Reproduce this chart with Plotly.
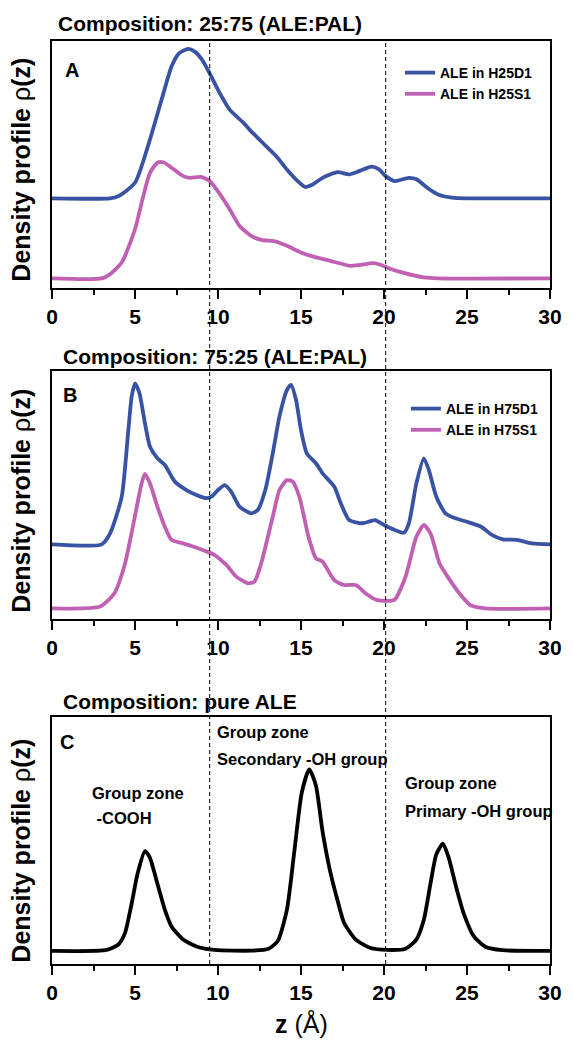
import plotly.graph_objects as go

# ---------------- data ----------------
# Panel A: composition 25:75 (ALE:PAL)
za_blue = [0, 3.5, 4.0, 5.0, 5.9, 6.6, 7.2, 7.65, 8.2, 8.6, 9.05, 9.6, 10.0, 10.7, 11.55, 12.0, 12.5,
           13.0, 13.5, 14.15, 14.8, 15.25, 15.7, 16.3, 17.2, 17.9, 18.5, 19.25, 19.7, 20.1, 20.65, 21.5,
           21.96, 22.6, 23.25, 24.1, 25.0, 30.0]
a_blue = [0.363, 0.363, 0.372, 0.426, 0.601, 0.762, 0.897, 0.950, 0.968, 0.957, 0.923, 0.856, 0.802,
          0.722, 0.668, 0.634, 0.601, 0.567, 0.534, 0.480, 0.433, 0.409, 0.419, 0.446, 0.469, 0.460,
          0.473, 0.491, 0.480, 0.453, 0.433, 0.446, 0.440, 0.406, 0.379, 0.366, 0.363, 0.363]
za_pink = [0, 3.0, 3.5, 4.2, 5.0, 5.5, 5.9, 6.35, 6.7, 7.2, 7.9, 8.3, 8.95, 9.5, 10.05, 10.7, 11.3, 12.0,
           12.6, 13.5, 14.15, 15.0, 15.7, 16.75, 17.95, 18.5, 19.35, 19.8, 20.4, 21.3, 22.4, 23.25, 30]
a_pink = [0.039, 0.039, 0.056, 0.103, 0.238, 0.372, 0.466, 0.507, 0.509, 0.487, 0.453, 0.446, 0.450,
          0.433, 0.386, 0.319, 0.251, 0.211, 0.195, 0.188, 0.171, 0.144, 0.128, 0.110, 0.090, 0.093,
          0.101, 0.094, 0.077, 0.059, 0.043, 0.039, 0.039]

# Panel B: composition 75:25 (ALE:PAL)
zb_blue = [0, 3.0, 3.5, 4.2, 4.6, 4.8, 5.0, 5.27, 5.6, 5.9, 6.35, 6.8, 7.4, 8.1, 8.7, 9.3, 9.6, 10.0,
           10.4, 10.8, 11.3, 12.0, 12.4, 12.85, 13.3, 13.7, 14.15, 14.4, 14.7, 15.0, 15.35, 15.9, 16.3,
           17.0, 17.4, 17.9, 18.7, 19.45, 20.0, 20.65, 21.2, 21.5, 21.95, 22.4, 22.7, 23.15, 23.7, 24.3,
           25.0, 25.85, 26.5, 27.15, 28.0, 28.9, 30]
b_blue = [0.301, 0.301, 0.345, 0.493, 0.762, 0.897, 0.950, 0.910, 0.789, 0.695, 0.648, 0.621, 0.554,
          0.520, 0.500, 0.487, 0.493, 0.520, 0.540, 0.513, 0.453, 0.426, 0.440, 0.520, 0.668, 0.816,
          0.923, 0.944, 0.883, 0.762, 0.668, 0.628, 0.587, 0.534, 0.466, 0.399, 0.386, 0.399, 0.379,
          0.359, 0.348, 0.386, 0.547, 0.648, 0.601, 0.493, 0.426, 0.406, 0.392, 0.372, 0.339, 0.321,
          0.319, 0.305, 0.301]
zb_pink = [0, 2.9, 3.75, 4.4, 4.95, 5.4, 5.6, 5.9, 6.35, 6.8, 7.2, 7.9, 8.5, 9.3, 9.8, 10.5, 11.1, 11.8,
           12.2, 12.6, 13.3, 13.7, 14.15, 14.5, 14.9, 15.45, 15.9, 16.3, 17.0, 17.6, 18.3, 18.9, 19.55,
           20.2, 20.65, 21.3, 21.95, 22.4, 22.8, 23.35, 23.9, 24.55, 25.2, 26.1, 30]
b_pink = [0.043, 0.050, 0.103, 0.224, 0.399, 0.547, 0.585, 0.547, 0.453, 0.372, 0.319, 0.305, 0.292,
          0.272, 0.258, 0.218, 0.171, 0.144, 0.151, 0.224, 0.413, 0.520, 0.560, 0.554, 0.493, 0.332,
          0.245, 0.231, 0.157, 0.137, 0.137, 0.103, 0.077, 0.073, 0.079, 0.171, 0.332, 0.379, 0.345,
          0.224, 0.164, 0.103, 0.056, 0.043, 0.043]

# Panel C: pure ALE
zc = [0, 3.3, 4.0, 4.4, 4.8, 5.15, 5.6, 5.9, 6.35, 6.8, 7.2, 7.9, 8.75, 9.8, 12.0, 13.05, 13.6, 14.15,
      14.6, 15.05, 15.5, 15.9, 16.3, 16.75, 17.2, 17.6, 18.3, 19.15, 20.2, 21.3, 21.95, 22.4, 22.8,
      23.15, 23.55, 23.9, 24.35, 24.8, 25.4, 26.1, 27.15, 30]
c_val = [0.053, 0.057, 0.079, 0.126, 0.245, 0.364, 0.457, 0.430, 0.325, 0.219, 0.152, 0.099, 0.070,
         0.057, 0.054, 0.062, 0.093, 0.219, 0.457, 0.695, 0.788, 0.722, 0.536, 0.377, 0.258, 0.166,
         0.099, 0.066, 0.057, 0.062, 0.099, 0.179, 0.325, 0.444, 0.487, 0.430, 0.311, 0.205, 0.113,
         0.070, 0.056, 0.053]

series_names_a = ["ALE in H25D1", "ALE in H25S1"]
series_names_b = ["ALE in H75D1", "ALE in H75S1"]
panel_titles = ["Composition: 25:75 (ALE:PAL)", "Composition: 75:25 (ALE:PAL)", "Composition: pure ALE"]
panel_letters = ["A", "B", "C"]
zone_dividers = [9.5, 20.1]
x_ticks = [0, 5, 10, 15, 20, 25, 30]
x_tick_labels = ["0", "5", "10", "15", "20", "25", "30"]
x_minor_ticks = [2.5, 7.5, 12.5, 17.5, 22.5, 27.5]

# ---------------- styling ----------------
BLUE = "#3953a4"
PINK = "#c160b3"
FONT = "Liberation Sans, Arial, sans-serif"

# the page body has an 8px margin, so the figure is drawn 8px in from the window corner
OFF = 8
W, H = 574 - OFF, 1048 - OFF
# target positions in window pixels
PLOT_L, PLOT_R, PLOT_T, PLOT_B = 52, 560, 41, 964
ML, MT = PLOT_L - OFF, PLOT_T - OFF
MR, MB = W - (PLOT_R - OFF), H - (PLOT_B - OFF)
PW, PH = W - ML - MR, H - MT - MB


def py(sy):
    """window y pixel -> paper fraction"""
    return (PLOT_B - sy) / PH


def px_(sx):
    """window x pixel -> paper fraction"""
    return (sx - PLOT_L) / PW


dom_a = [py(288), 1.0]
dom_b = [py(619), py(371)]
dom_c = [0.0, py(717)]

fig = go.Figure()
line_kw = dict(shape="spline", smoothing=0.6)
LW = 3.8
fig.add_trace(go.Scatter(x=za_blue, y=a_blue, mode="lines", name=series_names_a[0],
                         line=dict(color=BLUE, width=LW, **line_kw), xaxis="x", yaxis="y", legend="legend"))
fig.add_trace(go.Scatter(x=za_pink, y=a_pink, mode="lines", name=series_names_a[1],
                         line=dict(color=PINK, width=LW, **line_kw), xaxis="x", yaxis="y", legend="legend"))
fig.add_trace(go.Scatter(x=zb_blue, y=b_blue, mode="lines", name=series_names_b[0],
                         line=dict(color=BLUE, width=LW, **line_kw), xaxis="x2", yaxis="y2", legend="legend2"))
fig.add_trace(go.Scatter(x=zb_pink, y=b_pink, mode="lines", name=series_names_b[1],
                         line=dict(color=PINK, width=LW, **line_kw), xaxis="x2", yaxis="y2", legend="legend2"))
fig.add_trace(go.Scatter(x=zc, y=c_val, mode="lines", name="pure ALE", showlegend=False,
                         line=dict(color="black", width=LW, **line_kw), xaxis="x3", yaxis="y3"))

xcommon = dict(range=[0, 30], domain=[0, 1], tickmode="array", tickvals=x_ticks, ticktext=x_tick_labels,
               ticks="outside", ticklen=9, tickwidth=2, tickcolor="black",
               minor=dict(tickmode="array", tickvals=x_minor_ticks, ticks="outside", ticklen=5,
                          tickwidth=2, tickcolor="black"),
               showline=True, linewidth=2, linecolor="black", mirror=True,
               showgrid=False, zeroline=False,
               tickfont=dict(family=FONT, size=21, color="black", weight="bold"))
ycommon = dict(range=[0, 1], showticklabels=False, ticks="", showline=True, linewidth=2,
               linecolor="black", mirror=True, showgrid=False, zeroline=False)

legend_font = dict(family=FONT, size=14, color="black", weight="bold")
fig.update_layout(
    width=W, height=H,
    margin=dict(l=ML, r=MR, t=MT, b=MB),
    paper_bgcolor="white", plot_bgcolor="white",
    xaxis=dict(**xcommon, anchor="y"),
    xaxis2=dict(**xcommon, anchor="y2"),
    xaxis3=dict(**xcommon, anchor="y3"),
    yaxis=dict(**ycommon, domain=dom_a, anchor="x"),
    yaxis2=dict(**ycommon, domain=dom_b, anchor="x2"),
    yaxis3=dict(**ycommon, domain=dom_c, anchor="x3"),
    legend=dict(x=px_(407), y=py(57), xanchor="left", yanchor="top", bgcolor="rgba(0,0,0,0)",
                font=legend_font, tracegroupgap=0),
    legend2=dict(x=px_(413), y=py(393), xanchor="left", yanchor="top", bgcolor="rgba(0,0,0,0)",
                 font=legend_font, tracegroupgap=0),
    showlegend=True,
)

# dashed zone dividers spanning all panels
for zd in zone_dividers:
    fig.add_shape(type="line", xref="x", yref="paper", x0=zd, x1=zd, y0=0, y1=1,
                  line=dict(color="black", width=1, dash="4px,3px"), layer="above")

title_font = dict(family=FONT, size=21, color="black", weight="bold")
for title, (tx, ty) in zip(panel_titles, [(56, 23), (61, 356), (61, 701)]):
    fig.add_annotation(text=title, xref="paper", yref="paper", x=px_(tx), y=py(ty),
                       xanchor="left", yanchor="middle", showarrow=False, font=title_font)

letter_font = dict(family=FONT, size=20, color="black", weight="bold")
for letter, (lx, ly) in zip(panel_letters, [(63, 70), (61, 395), (58, 742)]):
    fig.add_annotation(text=letter, xref="paper", yref="paper", x=px_(lx), y=py(ly),
                       xanchor="left", yanchor="middle", showarrow=False, font=letter_font)

ytitle = "<b>Density profile </b>ρ<b>(z)</b>"
for cy in [170, 501, 851]:
    fig.add_annotation(text=ytitle, xref="paper", yref="paper", x=px_(20), y=py(cy),
                       xanchor="center", yanchor="middle", textangle=-90, showarrow=False,
                       font=dict(family=FONT, size=25, color="black"))

fig.add_annotation(text="<b>z</b> (Å)", xref="paper", yref="paper", x=0.5, y=py(1023),
                   xanchor="center", yanchor="middle", showarrow=False,
                   font=dict(family=FONT, size=25, color="black"))

zone_font = dict(family=FONT, size=16.5, color="black", weight="bold")
zone_labels = [("Group zone", 218.6, 732), ("Secondary -OH group", 218.6, 759),
               ("Group zone", 90.3, 793), ("&nbsp;-COOH", 90.3, 818),
               ("Group zone", 410, 783), ("Primary -OH group", 410, 811)]
for txt, zx, zy in zone_labels:
    fig.add_annotation(text=txt, xref="paper", yref="paper",
                       x=px_(zx), y=py(zy), xanchor="left", yanchor="middle", showarrow=False,
                       font=zone_font)

fig.write_html("out.html")
